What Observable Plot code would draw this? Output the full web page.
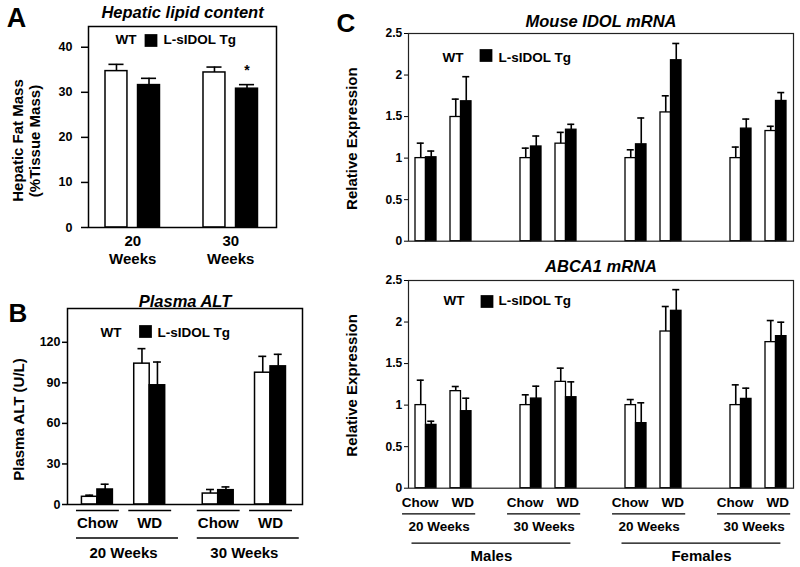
<!DOCTYPE html>
<html><head><meta charset="utf-8">
<script src="https://cdn.jsdelivr.net/npm/d3@7"></script>
<script src="https://cdn.jsdelivr.net/npm/@observablehq/plot@0.6"></script>
<style>
body{margin:0;background:#fff;}
#wrap{position:relative;width:800px;height:567px;overflow:hidden;background:#fff;}
#wrap svg{overflow:visible;}
</style></head><body><div id="wrap"></div>
<script>
// ---------- data ----------
const genotypes = ["WT", "L-sIDOL Tg"];

// Panel A: Hepatic lipid content (% tissue mass)
const hepaticWeeks = ["20", "30"];
const hepaticWT = [34.7, 34.4];
const hepaticWTErr = [1.5, 1.2];
const hepaticTg = [31.6, 30.8];
const hepaticTgErr = [1.5, 0.9];
const hepaticSig = ["", "*"];
const hepaticTicks = [0, 10, 20, 30, 40];

// Panel B: Plasma ALT (U/L), order: 20w Chow, 20w WD, 30w Chow, 30w WD
const altWeeks = ["20 Weeks", "30 Weeks"];
const diets = ["Chow", "WD"];
const altWT = [5.7, 104.2, 8.1, 97.5];
const altWTErr = [1.2, 11.1, 3.0, 12.1];
const altTg = [11.1, 88.2, 10.6, 102.2];
const altTgErr = [3.9, 17.2, 2.4, 8.9];
const altTicks = [0, 30, 60, 90, 120];

// Panel C: order per group (Males 20w, Males 30w, Females 20w, Females 30w) x (Chow, WD)
const cGroups = ["20 Weeks", "30 Weeks", "20 Weeks", "30 Weeks"];
const sexes = ["Males", "Females"];
const idolWT = [1.0, 1.495, 1.0, 1.174, 1.0, 1.55, 1.0, 1.326];
const idolWTErr = [0.18, 0.215, 0.12, 0.136, 0.10, 0.20, 0.133, 0.057];
const idolTg = [1.01, 1.684, 1.14, 1.342, 1.166, 2.178, 1.355, 1.688];
const idolTgErr = [0.075, 0.296, 0.126, 0.065, 0.317, 0.202, 0.115, 0.101];
const abcaWT = [1.0, 1.168, 1.0, 1.28, 1.0, 1.886, 1.0, 1.758];
const abcaWTErr = [0.30, 0.056, 0.124, 0.165, 0.067, 0.301, 0.244, 0.26];
const abcaTg = [0.762, 0.927, 1.079, 1.095, 0.783, 2.135, 1.075, 1.83];
const abcaTgErr = [0.044, 0.156, 0.149, 0.185, 0.245, 0.255, 0.129, 0.168];
const exprTicks = [0, 0.5, 1, 1.5, 2, 2.5];

// ---------- helpers ----------
const FONT = "'Liberation Sans', Arial, Helvetica, sans-serif";
const wrap = document.getElementById("wrap");
function place(svg, left, top) {
  svg.style.position = "absolute";
  svg.style.left = left + "px";
  svg.style.top = top + "px";
  svg.style.overflow = "visible";
  svg.style.fontFamily = FONT;
  svg.style.fontWeight = "bold";
  svg.style.background = "transparent";
  wrap.appendChild(svg);
}
function barMarks(rows, hw, cap, sw) {
  return [
    Plot.rect(rows.filter(d => d.g === 0), {x1: d => d.x - hw, x2: d => d.x + hw, y1: 0, y2: "v", fill: "white", stroke: "black", strokeWidth: sw}),
    Plot.rect(rows.filter(d => d.g === 1), {x1: d => d.x - hw, x2: d => d.x + hw, y1: 0, y2: "v", fill: "black", stroke: "black", strokeWidth: sw}),
    Plot.ruleX(rows, {x: "x", y1: "v", y2: d => d.v + d.e, stroke: "black", strokeWidth: 1.6}),
    Plot.ruleY(rows, {y: d => d.v + d.e, x1: d => d.x - cap, x2: d => d.x + cap, stroke: "black", strokeWidth: 1.6})
  ];
}
function legendMarks(wtDx, sqDx, tgDx, dy, sqDy, fs) {
  return [
    Plot.text([genotypes[0]], {frameAnchor: "top-left", text: d => d, dx: wtDx, dy, textAnchor: "start", lineAnchor: "middle", fontSize: fs, fontWeight: "bold"}),
    Plot.dot([genotypes[1]], {frameAnchor: "top-left", dx: sqDx, dy: sqDy, symbol: "square", r: 7.2, fill: "black", stroke: "none"}),
    Plot.text([genotypes[1]], {frameAnchor: "top-left", text: d => d, dx: tgDx, dy, textAnchor: "start", lineAnchor: "middle", fontSize: fs, fontWeight: "bold"})
  ];
}
function yLabel(text, dx, dy) {
  return Plot.text([text], {frameAnchor: "left", text: d => d, rotate: -90, dx, dy, textAnchor: "middle", lineAnchor: "middle", fontSize: 15, fontWeight: "bold"});
}
function topText(text, dx, dy, fs, style, anchor) {
  return Plot.text([text], {frameAnchor: anchor, text: d => d, dx, dy, textAnchor: "middle", lineAnchor: "middle", fontSize: fs, fontWeight: "bold", fontStyle: style});
}

// ---------- Panel A ----------
{
  const off = 0.166, hw = 0.112, cap = 0.077;
  const rows = hepaticWeeks.flatMap((w, i) => [
    {g: 0, x: i - off, v: hepaticWT[i], e: hepaticWTErr[i], s: ""},
    {g: 1, x: i + off, v: hepaticTg[i], e: hepaticTgErr[i], s: hepaticSig[i]}
  ]);
  const svg = Plot.plot({
    width: 290, height: 280, marginLeft: 88, marginRight: 14, marginTop: 26, marginBottom: 53,
    x: {domain: [-0.4515, 1.467], axis: null},
    y: {domain: [0, 44.6], axis: null},
    marks: [
      Plot.axisY({ticks: hepaticTicks, tickSize: 7, tickPadding: 9, fontSize: 12.5, fontWeight: "bold", label: null, strokeWidth: 1.5}),
      ...barMarks(rows, hw, cap, 1.5),
      Plot.text(rows, {x: "x", y: d => d.v + d.e, text: "s", dy: -14, lineAnchor: "middle", fontSize: 14, fontWeight: "bold"}),
      Plot.frame({stroke: "black", strokeWidth: 1.5}),
      Plot.text(hepaticWeeks, {x: (d, i) => i, text: d => d, frameAnchor: "bottom", dy: 14, lineAnchor: "middle", fontSize: 15, fontWeight: "bold"}),
      Plot.text(hepaticWeeks, {x: (d, i) => i, text: () => "Weeks", frameAnchor: "bottom", dy: 31.5, lineAnchor: "middle", fontSize: 15, fontWeight: "bold"}),
      ...legendMarks(27, 62.5, 75, 13.5, 14, 13.5),
      yLabel("Hepatic Fat Mass", -70, 13.5),
      yLabel("(%Tissue Mass)", -53, 14),
      topText("Hepatic lipid content", 0, -14, 16.5, "italic", "top"),
      topText("A", -72, -8, 27, "normal", "top-left")
    ]
  });
  place(svg, 0, 0);
}

// ---------- Panel B ----------
{
  const pos = (w, d) => w * 2.31 + d;
  const hw = 0.148, cap = 0.076;
  const rows = [];
  altWeeks.forEach((w, wi) => diets.forEach((dt, di) => {
    const k = wi * 2 + di, p = pos(wi, di);
    rows.push({g: 0, x: p - hw, v: altWT[k], e: altWTErr[k]});
    rows.push({g: 1, x: p + hw, v: altTg[k], e: altTgErr[k]});
  }));
  const cats = altWeeks.flatMap((w, wi) => diets.map((dt, di) => ({w: wi, d: di, label: dt})));
  const svg = Plot.plot({
    width: 310, height: 287, marginLeft: 67, marginRight: 8, marginTop: 28, marginBottom: 63,
    x: {domain: [-0.572, 3.922], axis: null},
    y: {domain: [0, 145], axis: null},
    marks: [
      Plot.axisY({ticks: altTicks, tickSize: 5, tickPadding: 2, fontSize: 12.5, fontWeight: "bold", label: null, strokeWidth: 1.5}),
      ...barMarks(rows, hw, cap, 1.5),
      Plot.frame({stroke: "black", strokeWidth: 1.5}),
      Plot.ruleY(cats, {y: 0, x1: d => pos(d.w, d.d) - 0.4, x2: d => pos(d.w, d.d) + 0.42, dy: 6, stroke: "black", strokeWidth: 1.5}),
      Plot.text(cats, {x: d => pos(d.w, d.d), text: "label", frameAnchor: "bottom", dy: 19, lineAnchor: "middle", fontSize: 15, fontWeight: "bold"}),
      Plot.ruleY(altWeeks, {y: 0, x1: (d, i) => pos(i, 0) - 0.4, x2: (d, i) => pos(i, 1) + 0.55, dy: 33.4, stroke: "black", strokeWidth: 1.5}),
      Plot.text(altWeeks, {x: (d, i) => pos(i, 0.5), text: d => d, frameAnchor: "bottom", dy: 48.7, lineAnchor: "middle", fontSize: 15, fontWeight: "bold"}),
      ...legendMarks(33, 78, 90, 24, 23, 13.5),
      yLabel("Plasma ALT (U/L)", -48.5, 13),
      topText("Plasma ALT", 0, -6.5, 16.5, "italic", "top"),
      topText("B", -49.5, 5.5, 26, "normal", "top-left")
    ]
  });
  place(svg, 0, 280);
}

// ---------- Panel C ----------
function cRows(wt, wtErr, tg, tgErr, hw) {
  const rows = [];
  cGroups.forEach((gname, gi) => diets.forEach((dt, di) => {
    const k = gi * 2 + di, s = gi * 3 + di;
    rows.push({g: 0, x: s - hw, v: wt[k], e: wtErr[k]});
    rows.push({g: 1, x: s + hw, v: tg[k], e: tgErr[k]});
  }));
  return rows;
}
{
  const hw = 0.15, cap = 0.1;
  const rows = cRows(idolWT, idolWTErr, idolTg, idolTgErr, hw);
  const svg = Plot.plot({
    width: 460, height: 255, marginLeft: 68, marginRight: 7, marginTop: 33, marginBottom: 14.3,
    x: {domain: [-0.5, 10.5], axis: null},
    y: {domain: [0, 2.5], axis: null},
    marks: [
      Plot.axisY({ticks: exprTicks, tickFormat: d => String(d), tickSize: 4, tickPadding: 2.3, fontSize: 12, fontWeight: "bold", label: null}),
      ...barMarks(rows, hw, cap, 1.3),
      Plot.frame({stroke: "#222", strokeWidth: 1.2}),
      ...legendMarks(34, 77.5, 90, 24, 22, 13.5),
      yLabel("Relative Expression", -56.5, 1.3),
      topText("Mouse IDOL mRNA", 0, -11.3, 16.5, "italic", "top"),
      topText("C", -62.5, -9.5, 26, "normal", "top-left")
    ]
  });
  place(svg, 340, 0);
}
{
  const hw = 0.15, cap = 0.1;
  const rows = cRows(abcaWT, abcaWTErr, abcaTg, abcaTgErr, hw);
  const cats = cGroups.flatMap((g, gi) => diets.map((dt, di) => ({s: gi * 3 + di, d: di, label: dt})));
  const svg = Plot.plot({
    width: 460, height: 312, marginLeft: 68, marginRight: 7, marginTop: 25, marginBottom: 79.3,
    x: {domain: [-0.5, 10.5], axis: null},
    y: {domain: [0, 2.5], axis: null},
    marks: [
      Plot.axisY({ticks: exprTicks, tickFormat: d => String(d), tickSize: 4, tickPadding: 2.3, fontSize: 12, fontWeight: "bold", label: null}),
      ...barMarks(rows, hw, cap, 1.3),
      Plot.frame({stroke: "#222", strokeWidth: 1.2}),
      Plot.text(cats, {x: d => d.s + (d.d === 0 ? -0.17 : 0.05), text: "label", frameAnchor: "bottom", dy: 14, lineAnchor: "middle", fontSize: 13.5, fontWeight: "bold"}),
      Plot.ruleY(cGroups, {y: 0, x1: (d, i) => i * 3 - 0.67, x2: (d, i) => i * 3 + 1.42, dy: 25.6, stroke: "black", strokeWidth: 1.3}),
      Plot.text(cGroups, {x: (d, i) => i * 3 + 0.375, text: d => d, frameAnchor: "bottom", dy: 38.5, lineAnchor: "middle", fontSize: 13.5, fontWeight: "bold"}),
      Plot.ruleY(sexes, {y: 0, x1: (d, i) => i * 6 - 0.4, x2: (d, i) => i * 6 + 4.14, dy: 55, stroke: "black", strokeWidth: 1.3}),
      Plot.text(sexes, {x: (d, i) => i * 6 + 1.87, text: d => d, frameAnchor: "bottom", dy: 67.5, lineAnchor: "middle", fontSize: 15, fontWeight: "bold"}),
      ...legendMarks(35, 78.5, 90, 20.5, 21, 13.5),
      yLabel("Relative Expression", -56.5, 1),
      topText("ABCA1 mRNA", 0, -14, 16.5, "italic", "top")
    ]
  });
  place(svg, 340, 255);
}
</script></body></html>
